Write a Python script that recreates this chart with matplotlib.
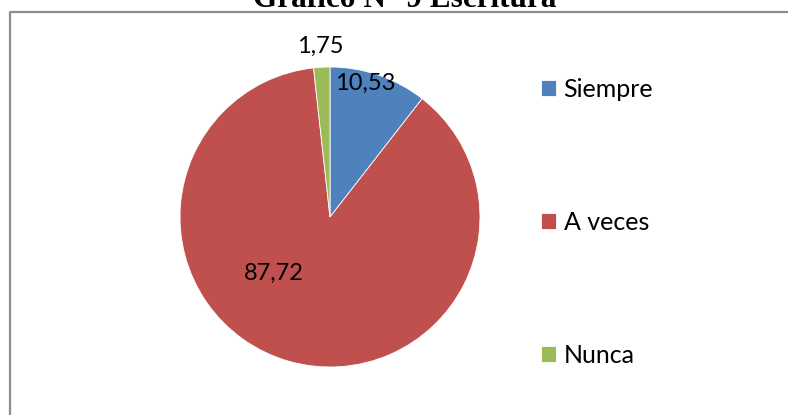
import matplotlib
matplotlib.use("Agg")
import matplotlib.pyplot as plt
from matplotlib.lines import Line2D
import numpy as np

categories = ["Siempre", "A veces", "Nunca"]
values = [10.53, 87.72, 1.75]
value_labels = ["10,53", "87,72", "1,75"]
colors = ["#4F81BD", "#C0504D", "#9BBB59"]
title = "Gráfico N° 9 Escritura"

W, H = 788, 415
fig = plt.figure(figsize=(W / 100, H / 100), dpi=100)

# pie axes: center (330,217) px, radius 150 px
cx, cy, r = 330, 217, 150
ax = fig.add_axes([(cx - r) / W, (H - cy - r) / H, 2 * r / W, 2 * r / H])
wedges, _ = ax.pie(values, colors=colors, startangle=90, counterclock=False,
                   radius=1.0, wedgeprops=dict(edgecolor="white", linewidth=0.6))
ax.set_xlim(-1, 1)
ax.set_ylim(-1, 1)
ax.set_aspect("equal")
ax.axis("off")

# label placement (angle offset deg, radius) per slice
placement = [(4, 0.92), (-29, 0.53), (0, 1.14)]
lab_font = dict(family=["Lato", "DejaVu Sans"], fontsize=17, color="black")
for w, lab, (doff, rad) in zip(wedges, value_labels, placement):
    mid = np.deg2rad((w.theta1 + w.theta2) / 2 + doff)
    ax.text(rad * np.cos(mid), rad * np.sin(mid), lab, ha="center", va="center",
            clip_on=False, **lab_font)

leg = fig.legend(wedges, categories, loc="upper left",
                 bbox_to_anchor=(541 / W, 1 - 78 / H), frameon=False,
                 prop=dict(family=["Lato", "DejaVu Sans"], size=18),
                 handlelength=0.58, handleheight=0.58, handletextpad=0.32,
                 labelspacing=4.4, borderpad=0, borderaxespad=0)

# title (cut off at top)
fig.text(405 / W, 1 - 7 / H, title, ha="center", va="baseline",
         family=["Liberation Serif", "DejaVu Serif"], fontweight="bold", fontsize=22.5)

# chart border (left and top visible)
fig.add_artist(Line2D([9.5 / W, 9.5 / W, 1.0], [0.0, 1 - 12.5 / H, 1 - 12.5 / H],
                      transform=fig.transFigure, color="#8c8c8c", lw=1.6))

fig.savefig("out.png", dpi=100)
